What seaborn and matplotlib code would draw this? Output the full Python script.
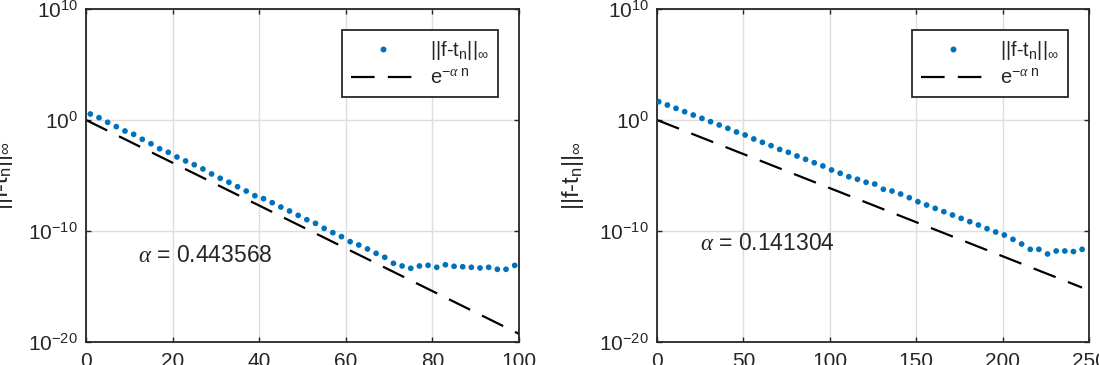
import numpy as np
import pandas as pd
import matplotlib
matplotlib.use("Agg")
import matplotlib.pyplot as plt
from matplotlib.lines import Line2D
from matplotlib.ticker import NullLocator, FixedLocator, FixedFormatter
import seaborn as sns

# ---------------- data ----------------
left_n = list(range(1, 100, 2))
left_log10_err = [0.54, 0.21, -0.21, -0.60, -0.99, -1.29, -1.74, -2.14, -2.59, -2.91,
                  -3.33, -3.69, -4.03, -4.41, -4.86, -5.25, -5.61, -6.01, -6.40, -6.82,
                  -7.09, -7.45, -7.84, -8.20, -8.59, -8.98, -9.31, -9.76, -10.15, -10.51,
                  -10.96, -11.26, -11.62, -12.01, -12.37, -12.91, -13.15, -13.36, -13.15, -13.09,
                  -13.27, -13.04, -13.18, -13.22, -13.27, -13.33, -13.27, -13.45, -13.45, -13.10]
left_line_n = [0, 100]
left_line_y = [1.0, 5.4e-20]
left_alpha_text = "0.443568"
left_xticks = [0, 20, 40, 60, 80, 100]

right_n = list(range(1, 250, 5))
right_log10_err = [1.65, 1.35, 1.05, 0.75, 0.45, 0.15, -0.15, -0.45, -0.75, -1.08,
                   -1.35, -1.71, -2.01, -2.31, -2.65, -2.91, -3.24, -3.54, -3.85, -4.14,
                   -4.50, -4.80, -5.11, -5.34, -5.61, -5.77, -6.24, -6.40, -6.67, -7.00,
                   -7.36, -7.66, -7.96, -8.26, -8.56, -8.86, -9.16, -9.46, -9.79, -10.09,
                   -10.36, -10.75, -11.17, -11.65, -11.65, -12.07, -11.80, -11.80, -11.85, -11.65]
right_line_n = [0, 246]
right_line_y = [1.0, 8.0e-16]
right_alpha_text = "0.141304"
right_xticks = [0, 50, 100, 150, 200, 250]

ytick_exponents = [-20, -10, 0, 10]

legend_labels = [r"||f-t$_\mathregular{n}$||$_\infty$",
                 r"e$^{\mathregular{-}\mathit{\alpha}\ \mathregular{n}}$"]
ylabel_text = r"||f-t$_\mathregular{n}$||$_\infty$"

# ---------------- style ----------------
sns.set_theme(style="white")
plt.rcParams["font.family"] = ["Liberation Sans", "DejaVu Sans"]
plt.rcParams["mathtext.fontset"] = "custom"
plt.rcParams["mathtext.rm"] = "Liberation Sans"
plt.rcParams["mathtext.it"] = "Liberation Serif:italic"
plt.rcParams["mathtext.bf"] = "Liberation Sans:bold"
plt.rcParams["mathtext.default"] = "regular"
plt.rcParams["lines.scale_dashes"] = False

BLUE = "#0072BD"
DARK = "#262626"
GRID = "#dedede"

W, H = 1099, 365
fig = plt.figure(figsize=(W / 100, H / 100), dpi=100)
fig.patch.set_facecolor("white")
ax1 = fig.add_axes([86 / W, (H - 342) / H, 433 / W, 333 / H])
ax2 = fig.add_axes([657 / W, (H - 342) / H, 432 / W, 333 / H])


def draw(ax, n, logerr, line_n, line_y, xmax, xticks, alpha_text, text_x, text_logy):
    ax.set_yscale("log")
    df = pd.DataFrame({"n": n, "err": 10.0 ** np.array(logerr)})
    ldf = pd.DataFrame({"n": line_n, "y": line_y})
    sns.lineplot(data=ldf, x="n", y="y", ax=ax, color="black", linewidth=1.6,
                 linestyle="--", legend=False)
    ax.lines[-1].set_dashes([17, 9.5])
    sns.scatterplot(data=df, x="n", y="err", ax=ax, color=BLUE, s=17,
                    edgecolor="none", linewidth=0, marker="o", legend=False, zorder=3)

    ax.set_xlim(0, xmax)
    ax.set_ylim(1e-20, 1e10)
    ax.xaxis.set_major_locator(FixedLocator(xticks))
    ax.xaxis.set_major_formatter(FixedFormatter([str(t) for t in xticks]))
    ax.yaxis.set_major_locator(FixedLocator([10.0 ** e for e in ytick_exponents]))
    ax.yaxis.set_major_formatter(FixedFormatter(
        [r"10$^{\mathregular{%d}}$" % e for e in ytick_exponents]))
    ax.yaxis.set_minor_locator(NullLocator())
    ax.xaxis.set_minor_locator(NullLocator())
    ax.grid(True, color=GRID, linewidth=1.0)
    ax.set_axisbelow(True)
    for s in ax.spines.values():
        s.set_visible(True)
        s.set_color(DARK)
        s.set_linewidth(1.3)
    ax.tick_params(axis="both", which="major", direction="in", length=3.5, width=1.0,
                   colors=DARK, labelsize=15, top=True, right=True, bottom=True, left=True)
    ax.tick_params(axis="x", pad=7.5)
    ax.tick_params(axis="y", pad=6)
    ax.set_xlabel("")
    ax.set_ylabel(ylabel_text, fontsize=17, color=DARK)
    ax.yaxis.set_label_coords(-0.165, 0.5)

    ax.text(text_x, 10.0 ** text_logy, r"$\mathit{\alpha}$ = " + alpha_text, fontsize=16.5,
            color=DARK, va="center", ha="left")

    handles = [
        Line2D([], [], marker="o", linestyle="none", color=BLUE, markersize=4.3,
               markeredgewidth=0),
        Line2D([], [], color="black", linewidth=1.6, dashes=[17, 9.5]),
    ]
    leg = ax.legend(handles, legend_labels, loc="upper right",
                    bbox_to_anchor=(412 / 433, 312 / 333), borderaxespad=0,
                    fontsize=14.5, handlelength=3.1, handletextpad=0.8,
                    borderpad=0.45, labelspacing=0.3, fancybox=False, framealpha=1,
                    edgecolor=DARK)
    leg.get_frame().set_linewidth(1.3)
    for t in leg.get_texts():
        t.set_color(DARK)


draw(ax1, left_n, left_log10_err, left_line_n, left_line_y, 100, left_xticks,
     left_alpha_text, 12.0, -12.2)
draw(ax2, right_n, right_log10_err, right_line_n, right_line_y, 250, right_xticks,
     right_alpha_text, 25.0, -11.1)

fig.savefig("out.png", dpi=100, facecolor="white")
